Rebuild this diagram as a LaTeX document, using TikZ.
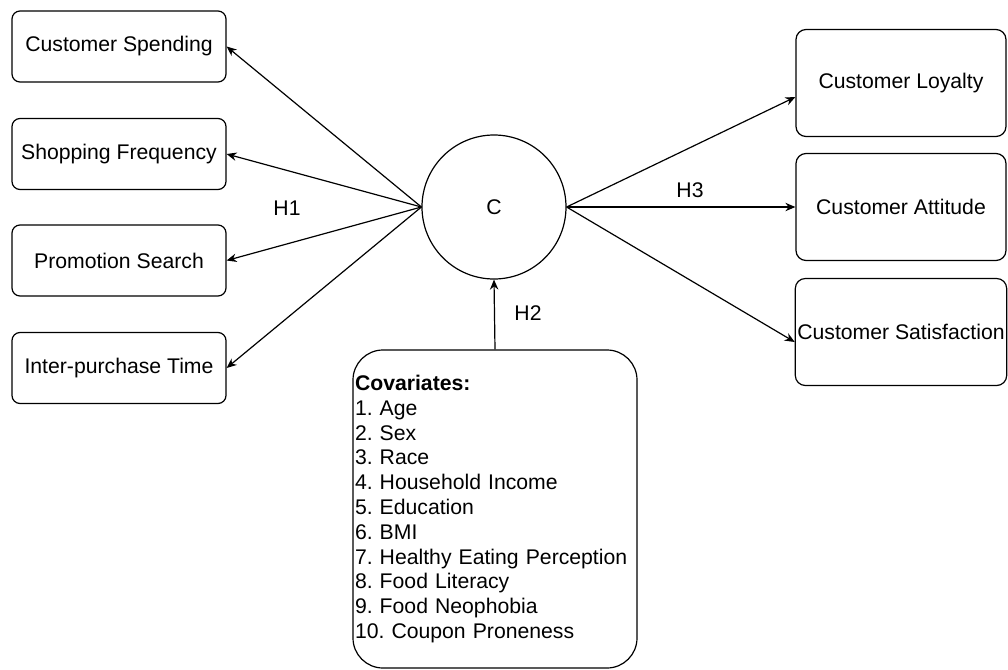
\documentclass[tikz,border=0pt]{standalone}
\usepackage{fontspec}
\setmainfont{Liberation Sans}
\usepackage{tikz}
\usetikzlibrary{positioning}
\usetikzlibrary{calc,arrows.meta}
\tikzset{
  outbox/.style={draw,rounded corners=4pt,minimum width=107pt,minimum height=35.5pt,inner sep=1pt},
  effbox/.style={draw,rounded corners=5pt,minimum width=105pt,minimum height=53.5pt,inner sep=1pt},
}
\frenchspacing

\begin{document}
\begin{tikzpicture}[>={Stealth[length=5pt,width=4.2pt]},x=0.5pt,y=-0.5pt,line width=0.6pt,font=\fontsize{10.6}{12.4}\selectfont]
  \useasboundingbox (0,0) rectangle (1008,670);
  % central construct
  \node[draw,circle,minimum size=72pt] (c) at (494,207) {C};
  % shopping outcomes (left)
  \node[outbox] (spend) at (119,46.5) {Customer Spending};
  \node[outbox] (freq) at (119,154) {Shopping Frequency};
  \node[outbox] (promo) at (119,260.5) {Promotion Search};
  \node[outbox] (inter) at (119,368) {Inter-purchase Time};
  % attitudinal outcomes (right)
  \node[effbox] (loyal) at (901,83) {Customer Loyalty};
  \node[effbox] (attit) at (901,207) {Customer Attitude};
  \node[effbox] (satis) at (901,332) {Customer Satisfaction};
  % covariates
  \node[draw,rounded corners=15pt,minimum width=142pt,minimum height=159pt,
        text width=140pt,inner xsep=1pt,align=left] (cov) at (495,509)
    {\textbf{Covariates:}\\1. Age\\2. Sex\\3. Race\\4. Household Income\\5. Education\\6. BMI\\
     7. Healthy Eating Perception\\8. Food Literacy\\9. Food Neophobia\\10. Coupon Proneness};
  % hypotheses
  \draw[->] (c.west) -- (spend.east);
  \draw[->] (c.west) -- (freq.east);
  \draw[->] (c.west) -- (promo.east);
  \draw[->] (c.west) -- (inter.east);
  \node (h1) at (287,208) {H1};
  \draw[->] (c.east) -- ($(loyal.west)+(0,14)$);
  \draw[->] (c.east) -- (attit.west);
  \draw[->] (c.east) -- ($(satis.west)+(0,10)$);
  \node (h3) at (690,190) {H3};
  \draw[->] (cov.north) -- (c.south);
  \node (h2) at (528,313) {H2};
\end{tikzpicture}
\end{document}
